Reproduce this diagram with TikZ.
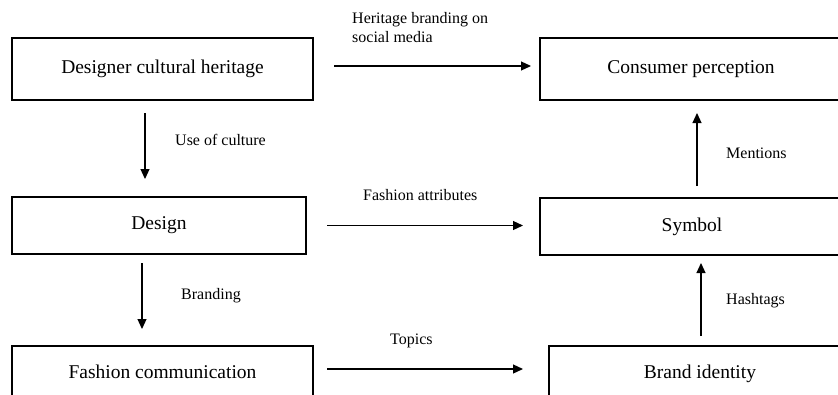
\documentclass[tikz,border=0pt]{standalone}
\usepackage{fontspec}
\setmainfont{Liberation Serif}
\usetikzlibrary{arrows.meta}
\begin{document}
\begin{tikzpicture}[x=1pt,y=-1pt,
  box/.style={draw, line width=2pt, inner sep=0pt, font=\fontsize{19.5}{23}\selectfont},
  lbl/.style={inner sep=0pt, anchor=west, font=\fontsize{16}{19}\selectfont},
  arr/.style={line width=1.2pt, -{Triangle[length=10pt,width=9pt]}}]
\useasboundingbox (0,0) rectangle (838,394);
\clip (0,0) rectangle (838,394);
\node[box, minimum width=301pt, minimum height=62pt] (b1) at (162.5,69) {Designer cultural heritage};
\node[box, minimum width=302pt, minimum height=62pt] (cp) at (691,69) {Consumer perception};
\node[box, minimum width=294pt, minimum height=57pt] (d) at (159,225.5) {Design};
\node[box, minimum width=304pt, minimum height=57pt] (s) at (692,226.5) {Symbol};
\node[box, minimum width=301pt, minimum height=52pt] (fc) at (162.5,372) {Fashion communication};
\node[box, minimum width=302pt, minimum height=56pt] (bi) at (700,374) {Brand identity};
% horizontal
\draw[arr, shorten <=20pt, shorten >=8pt] ([yshift=3pt]b1.east) -- ([yshift=3pt]b1.east -| cp.west);
\draw[arr, shorten <=20pt, shorten >=16pt] (d.east) -- (d.east -| s.west);
\draw[arr, shorten <=13pt, shorten >=25pt] ([yshift=3pt]fc.east) -- ([yshift=3pt]fc.east -| bi.west);
% vertical
\draw[arr, shorten <=12pt, shorten >=17pt] ([xshift=-17.5pt]b1.south) -- ([xshift=-17.5pt]b1.south |- d.north);
\draw[arr, shorten <=8pt, shorten >=16pt] ([xshift=-17pt]d.south) -- ([xshift=-17pt]d.south |- fc.north);
\draw[arr, shorten <=11pt, shorten >=12pt] ([xshift=5pt]s.north) -- ([xshift=5pt]s.north |- cp.south);
\draw[arr, shorten <=9pt, shorten >=7pt] ([xshift=1pt]bi.north) -- ([xshift=1pt]bi.north |- s.south);
% labels
\node[lbl, align=left] (l1) at (352,28) {Heritage branding on\\social media};
\node[lbl] (l2) at (175,140) {Use of culture};
\node[lbl] (l3) at (363,195) {Fashion attributes};
\node[lbl] (l4) at (726,153) {Mentions};
\node[lbl] (l5) at (181,296) {Branding};
\node[lbl] (l6) at (390,341) {Topics};
\node[lbl] (l7) at (726,301) {Hashtags};
\end{tikzpicture}
\end{document}
